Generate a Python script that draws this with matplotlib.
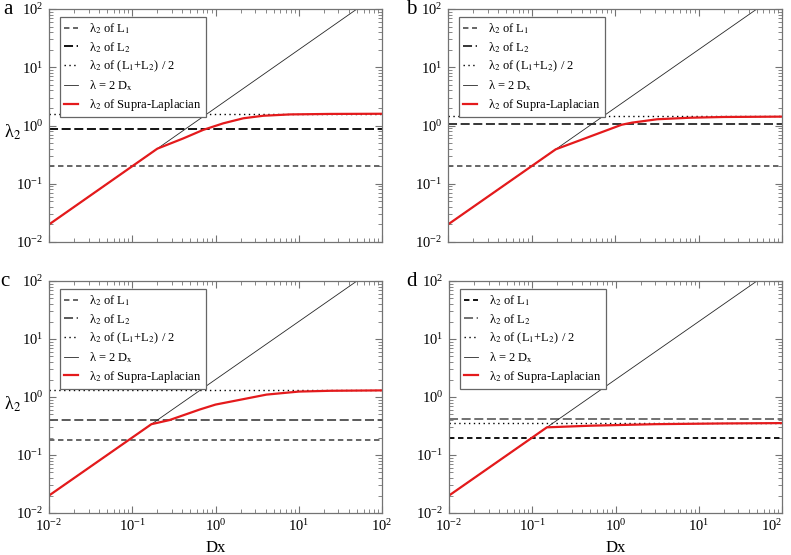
import matplotlib
matplotlib.use("Agg")
import matplotlib.pyplot as plt
from matplotlib.ticker import LogLocator, NullFormatter

plt.rcParams['font.family'] = ['Liberation Serif', 'DejaVu Serif']
plt.rcParams['mathtext.fontset'] = 'stix'

# horizontal reference levels per panel
panels = ['a', 'b', 'c', 'd']
lam_L1 = [0.20, 0.20, 0.18, 0.20]
lam_L2 = [0.86, 1.05, 0.40, 0.42]
lam_avg = [1.60, 1.43, 1.32, 0.35]

# lambda = 2 Dx reference line end points
ref_dx = [0.01, 100]
ref_lam = [0.02, 200]

# lambda_2 of the supra-Laplacian
dx_a = [0.01, 0.2, 0.41, 0.71, 1.24, 2.16, 3.75, 7.9, 24, 100]
lam_a = [0.02, 0.40, 0.60, 0.84, 1.09, 1.33, 1.47, 1.55, 1.58, 1.59]
dx_b = [0.01, 0.195, 1.2, 1.6, 3.2, 8, 20, 100]
lam_b = [0.02, 0.39, 1.03, 1.12, 1.28, 1.36, 1.40, 1.42]
dx_c = [0.01, 0.17, 0.28, 0.65, 1.0, 1.64, 4.1, 10, 24, 100]
lam_c = [0.02, 0.34, 0.40, 0.61, 0.74, 0.85, 1.10, 1.24, 1.28, 1.30]
dx_d = [0.01, 0.15, 0.5, 3, 20, 100]
lam_d = [0.02, 0.30, 0.32, 0.34, 0.35, 0.355]
supra_dx = [dx_a, dx_b, dx_c, dx_d]
supra_lam = [lam_a, lam_b, lam_c, lam_d]

W, H = 791, 555
fig = plt.figure(figsize=(W / 100, H / 100), dpi=100)

# axes boxes in pixels: left, top, right, bottom
boxes = [(49, 9, 382, 242), (448, 9, 782, 242),
         (49, 281, 382, 513), (449, 281, 782, 513)]
letter_pos = [(3, 0), (406, 0), (0, 272), (406, 272)]
# colours of the two dashed lines per panel
l1_col = ['0.35', '0.35', '0.35', '0.0']
l2_col = ['0.0', '0.15', '0.3', '0.4']

axes = []
for i, p in enumerate(panels):
    l, t, r, b = boxes[i]
    ax = fig.add_axes([l / W, 1 - b / H, (r - l) / W, (b - t) / H])
    axes.append(ax)
    ax.set_xscale('log')
    ax.set_yscale('log')

    ax.axhline(lam_L1[i], color=l1_col[i], lw=1.3, ls=(0, (3, 2)), label=r'λ$_2$ of L$_1$')
    ax.axhline(lam_L2[i], color=l2_col[i], lw=1.3, ls=(0, (5, 2)), label=r'λ$_2$ of L$_2$')
    ax.axhline(lam_avg[i], color='k', lw=1.0, ls=(0, (1, 2.5)),
               label=r'λ$_2$ of (L$_1$+L$_2$) / 2')
    ax.plot(ref_dx, ref_lam, color='0.15', lw=0.6, label=r'λ = 2 D$_\mathrm{x}$')
    ax.plot(supra_dx[i], supra_lam[i], color='#e41a1c', lw=1.6,
            label=r'λ$_2$ of Supra-Laplacian')

    ax.set_xlim(0.01, 100)
    ax.set_ylim(0.01, 100)
    ax.xaxis.set_major_locator(LogLocator(base=10, numticks=10))
    ax.yaxis.set_major_locator(LogLocator(base=10, numticks=10))
    ax.xaxis.set_minor_locator(LogLocator(base=10, subs=range(2, 10), numticks=20))
    ax.yaxis.set_minor_locator(LogLocator(base=10, subs=range(2, 10), numticks=20))
    ax.yaxis.set_minor_formatter(NullFormatter())
    ax.xaxis.set_minor_formatter(NullFormatter())
    ax.tick_params(which='both', direction='in', top=True, right=True,
                   color='0.45', labelsize=10.5, pad=4)
    ax.tick_params(which='major', length=5, width=0.8)
    ax.tick_params(which='minor', length=3, width=0.6)
    for s in ax.spines.values():
        s.set_color('0.45')
        s.set_linewidth(0.9)

    if i < 2:
        ax.tick_params(labelbottom=False)
    else:
        ax.set_xlabel('Dx', fontsize=12)
        ax.xaxis.set_label_coords(0.5, -0.115)
    if i % 2 == 0:
        ax.set_ylabel(r'λ$_2$', fontsize=13, rotation=0, va='center', ha='center')
        ax.yaxis.set_label_coords(-0.11, 0.47)

    leg = ax.legend(loc='upper left', bbox_to_anchor=(0.033, 0.967), borderaxespad=0,
                    fontsize=9, fancybox=False, handlelength=1.1, handletextpad=0.9,
                    labelspacing=0.32, borderpad=0.35, framealpha=1)
    leg.get_frame().set_edgecolor('0.4')
    leg.get_frame().set_linewidth(0.9)

    fig.text(letter_pos[i][0] / W, 1 - letter_pos[i][1] / H, p, fontsize=15,
             ha='left', va='top')

# keep the last x tick label of panel d inside the figure
fig.canvas.draw()
for t in axes[3].xaxis.get_major_ticks():
    if abs(t.get_loc() - 100) < 1e-6:
        t.label1.set_horizontalalignment('right')
        t.label1.set_x(t.get_loc())

fig.savefig('out.png', dpi=100)
